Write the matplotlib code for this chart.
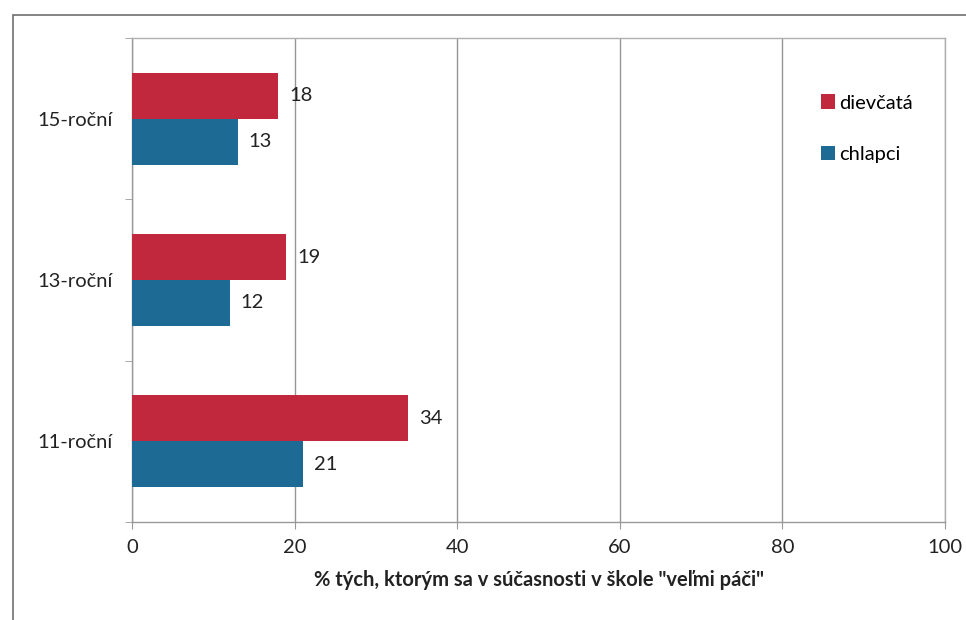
import matplotlib
matplotlib.use("Agg")
import matplotlib.pyplot as plt
from matplotlib.patches import Rectangle
import numpy as np

categories = ["11-roční", "13-roční", "15-roční"]
dievcata = [34, 19, 18]
chlapci = [21, 12, 13]
series_names = ["dievčatá", "chlapci"]
xticks = [0, 20, 40, 60, 80, 100]
xlabel = '% tých, ktorým sa v súčasnosti v škole "veľmi páči"'

RED = "#C1283D"
BLUE = "#1D6A94"
FS = 14.5

plt.rcParams['font.family'] = ['Lato', 'DejaVu Sans']

fig = plt.figure(figsize=(9.66, 6.2), dpi=100)
ax = fig.add_axes([132/966, 98/620, 813/966, 484/620])

y = np.arange(len(categories))
h = 0.285
b1 = ax.barh(y + h/2, dievcata, height=h, color=RED, label=series_names[0], zorder=3)
b2 = ax.barh(y - h/2, chlapci, height=h, color=BLUE, label=series_names[1], zorder=3)

for bars, vals in ((b1, dievcata), (b2, chlapci)):
    for r, v in zip(bars, vals):
        ax.annotate(str(v), (r.get_width(), r.get_y() + r.get_height()/2),
                    xytext=(8, 0), textcoords="offset points",
                    va="center", ha="left", fontsize=FS, color="#222222")

ax.set_xlim(0, 100)
ax.set_ylim(-0.5, len(categories) - 0.5)
ax.set_xticks(xticks)
ax.set_xticklabels([str(t) for t in xticks], fontsize=FS, color="#222222")
ax.set_yticks(y)
ax.set_yticklabels(categories, fontsize=FS, color="#222222")
ax.tick_params(axis="y", which="major", length=0, pad=14)
ax.set_yticks(np.arange(-0.5, len(categories), 1.0), minor=True)
ax.tick_params(axis="y", which="minor", length=5, color="#999999", direction="out")
ax.tick_params(axis="x", length=5, color="#999999", direction="out", pad=7)

ax.grid(axis="x", color="#959595", linewidth=1.0, zorder=0)
for s in ax.spines.values():
    s.set_color("#b0b0b0")
    s.set_linewidth(1.0)
ax.spines["left"].set_color("#999999")
ax.spines["bottom"].set_color("#999999")

ax.set_xlabel(xlabel, fontsize=FS, fontweight="bold", color="#222222", labelpad=10)

leg = ax.legend(loc="upper left", bbox_to_anchor=(0.838, 0.90), frameon=False,
                fontsize=FS, handlelength=0.7, handleheight=0.7, handletextpad=0.2,
                labelspacing=1.7, borderaxespad=0)

# outer chart frame (scanned document border)
fig.add_artist(Rectangle((13/966, -0.05), 1.1, (620-15)/620 + 0.05,
                         transform=fig.transFigure, fill=False,
                         edgecolor="#707070", linewidth=1.2))

fig.savefig("out.png", dpi=100, facecolor="white")
